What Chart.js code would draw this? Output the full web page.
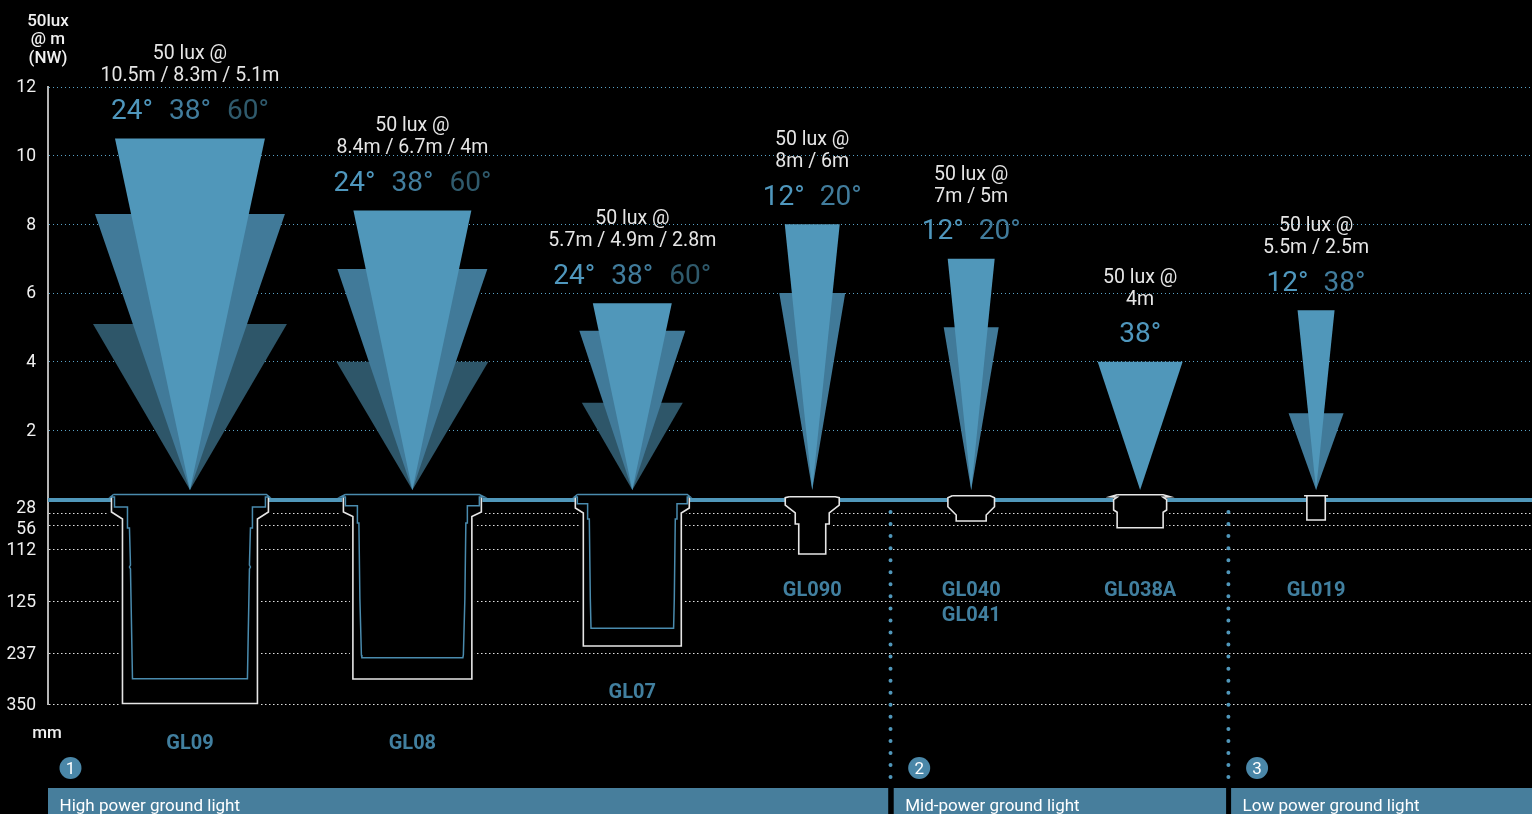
<!DOCTYPE html>
<html lang="en">
<head>
    <meta charset="UTF-8">
    <title>Ground light range</title>
    <script src="https://cdn.jsdelivr.net/npm/chart.js@4/dist/chart.umd.js"></script>
    <style>
        html, body { margin: 0; padding: 0; background: #000; overflow: hidden; }
        canvas { display: block; }
    </style>
</head>
<body>
<canvas id="lightChart" width="1532" height="814"></canvas>

<script>
    // Fixtures, left to right
    const fixtureNames = [['GL09'], ['GL08'], ['GL07'], ['GL090'], ['GL040', 'GL041'], ['GL038A'], ['GL019']];
    const fixtureCenters = [189.5, 412, 632, 812, 971, 1140, 1316];
    const nameDepths = [242, 242, 191, 89, 89, 89, 89];

    // Beams of each fixture, widest throw first
    const beamAngles = [[24, 38, 60], [24, 38, 60], [24, 38, 60], [12, 20], [12, 20], [38], [12, 38]];
    const beamRanges = [[10.5, 8.3, 5.1], [8.4, 6.7, 4], [5.7, 4.9, 2.8], [8, 6], [7, 5], [4], [5.5, 2.5]];
    const beamHalfWidths = [[75, 95, 97], [59, 75, 76], [39.5, 53, 50.5], [27.5, 33], [23.5, 27.5], [42.5], [18.5, 27.5]];
    const beamApex = 0.26;

    // Axes
    const meterTicks = [2, 4, 6, 8, 10, 12];
    const depthTicks = [14, 26, 50, 102, 154, 205];
    const depthLabels = ['28', '56', '112', '125', '237', '350'];
    const depthLabelSpots = [8, 29, 50, 102, 154, 205];

    // Fixture cross sections as [half width, depth]
    const housings = [
        [[78.5, -2], [78.5, 13], [67.5, 20], [67.5, 204.5]],
        [[69, -2], [69, 13], [59.5, 17.5], [59.5, 180]],
        [[57, -2], [57, 9], [49, 14], [49, 147]],
        [[23, -2.3], [27, -1.3], [27, 6], [17, 14], [17, 25], [13.5, 25], [13.5, 55]],
        [[19, -3.3], [23.3, -1.3], [23.3, 7.7], [15, 16], [15, 22]],
        [[23, -4.3], [30, -2.3], [23, -1.8], [26.5, 0.5], [26.5, 11], [23, 13.3], [23, 28.7]],
        [[12, -3.3], [9.2, -3.3], [9.2, 21]]
    ];
    const reflectors = [
        [[76.5, -4.5], [79.5, -2], [75.5, -2], [75.5, 8], [62.5, 8], [62.5, 29], [60.5, 29], [59.5, 66], [60.5, 68], [59.5, 70], [57.5, 179.7]],
        [[67, -4.5], [72, -2], [67, -2], [67, 6.7], [55, 6.7], [55, 24], [53.5, 24], [52.5, 100], [51, 156], [50.5, 158.7]],
        [[55, -4.5], [58, -2], [55, -2], [55, 4.7], [44.7, 4.7], [44.7, 20], [43, 20], [42, 100], [41.3, 129.3]],
        [], [], [], []
    ];
    // Half width where the ground line meets each fixture
    const groundStops = [79, 70, 57.5, 27, 23.3, 27, 9.2];

    // Bottom bands
    const bandNames = ['High power ground light', 'Mid-power ground light', 'Low power ground light'];
    const bandStarts = [47.5, 893.5, 1231];
    const bandEnds = [888, 1226, 1532];
    const bandDepth = 302;
    const badgeCenters = [70, 919, 1257];
    const badgeDepth = 269;
    const dividerCenters = [890.3, 1228.3];
    const dividerDepths = [13, 280];
    const groundDepth = 1;
    const groundEnds = [47.5, 1532];

    const beamColors = ['#5097ba', '#417a99', '#2e5669'];
    const angleColors = { 0: '#4f97bd', 1: '#417c9c', 2: '#2f5a6c' };
    const nameBlue = '#417f9f';
    const lineWhite = '#e6e6e6';

    function section(cx, profile) {
        const left = profile.map(p => ({ x: cx - p[0], y: p[1] }));
        const right = profile.map(p => ({ x: cx + p[0], y: p[1] })).reverse();
        return left.concat(right);
    }

    const datasets = [];

    function addLine(points, yAxisID, opts) {
        datasets.push(Object.assign({
            data: points, yAxisID, showLine: true, pointRadius: 0, tension: 0,
            borderWidth: 0, clip: false, fill: false
        }, opts));
    }

    // Beams and the black body of each fixture
    fixtureCenters.forEach((cx, f) => {
        beamRanges[f].map((r, i) => i).reverse().forEach(i => {
            const r = beamRanges[f][i];
            const hw = beamHalfWidths[f][i];
            addLine(
                [{ x: cx, y: beamApex }, { x: cx - hw, y: r }, { x: cx + hw, y: r }, { x: cx, y: beamApex }],
                'y', { backgroundColor: beamColors[i], fill: 'shape' }
            );
        });
        const body = section(cx, housings[f]);
        addLine(body.concat([body[0]]), 'depth', { backgroundColor: '#000', borderColor: '#000', borderWidth: 6, fill: 'shape' });
    });

    // Ground line runs between the fixtures
    fixtureCenters.concat([null]).forEach((cx, f) => {
        const from = f === 0 ? groundEnds[0] : fixtureCenters[f - 1] + groundStops[f - 1];
        const to = cx === null ? groundEnds[1] : cx - groundStops[f];
        addLine([{ x: from, y: groundDepth }, { x: to, y: groundDepth }], 'depth', { borderColor: '#5097ba', borderWidth: 4 });
    });

    // Outlines on top
    fixtureCenters.forEach((cx, f) => {
        const body = section(cx, housings[f]);
        const open = reflectors[f].length > 0;
        addLine(open ? body : body.concat([body[0]]), 'depth', { borderColor: lineWhite, borderWidth: 1.6 });
        if (open) {
            const inner = section(cx, reflectors[f]);
            addLine(inner.concat([inner[0]]), 'depth', { borderColor: '#4a8bae', borderWidth: 1.5 });
        }
    });

    dividerCenters.forEach(x => {
        addLine([{ x, y: dividerDepths[0] }, { x, y: dividerDepths[1] }], 'depth', {
            borderColor: '#5097ba', borderWidth: 4, borderCapStyle: 'round', borderDash: [0, 12.05]
        });
    });

    bandNames.forEach((name, i) => {
        addLine([{ x: bandStarts[i], y: bandDepth }, { x: bandEnds[i], y: bandDepth }], 'depth', {
            borderColor: '#477e9c', borderWidth: 26
        });
    });

    // Points outside the chart area are skipped by Chart.js, so badges are round-capped stubs
    badgeCenters.forEach(x => {
        addLine([{ x: x - 0.01, y: badgeDepth }, { x: x + 0.01, y: badgeDepth }], 'depth', {
            borderColor: '#4a87a8', borderWidth: 22, borderCapStyle: 'round'
        });
    });

    // Text that is not a tick label
    const textPlugin = {
        id: 'chartText',
        afterDatasetsDraw(chart) {
            const { ctx } = chart;
            const xs = chart.scales.x;
            const ys = chart.scales.y;
            const ds = chart.scales.depth;
            const put = (text, x, y, font, color, align) => {
                ctx.font = font;
                ctx.fillStyle = color;
                ctx.textAlign = align || 'center';
                ctx.textBaseline = 'middle';
                ctx.fillText(text, x, y);
            };

            ctx.save();
            const axisFont = '500 17px Roboto';
            ['50lux', '@ m', '(NW)'].forEach((t, i) => put(t, 48, 21.5 + i * 18.5, axisFont, '#f0f0f0'));
            depthLabels.forEach((t, i) => put(t, 36, ds.getPixelForValue(depthLabelSpots[i]) + 1.5, '400 17.5px Roboto', '#f0f0f0', 'right'));
            put('mm', 47, ds.getPixelForValue(233) + 2, axisFont, '#f0f0f0');

            fixtureCenters.forEach((cx, f) => {
                const x = xs.getPixelForValue(cx);
                const top = ys.getPixelForValue(beamRanges[f][0]);
                put('50 lux @', x, top - 84, '400 19.5px Roboto', lineWhite);
                put(beamRanges[f].map(r => r + 'm').join(' / '), x, top - 62, '400 19.5px Roboto', lineWhite);

                const angles = beamAngles[f];
                const step = angles.length === 3 ? 58 : 57;
                angles.forEach((a, i) => {
                    const off = (i - (angles.length - 1) / 2) * step;
                    put(a + '°', x + off, top - 26.5, '400 28px Roboto', angleColors[i]);
                });

                fixtureNames[f].forEach((n, i) => {
                    put(n, x, ds.getPixelForValue(nameDepths[f]) + 2.5 + i * 25, '700 20px Roboto', nameBlue);
                });
            });

            bandNames.forEach((name, i) => {
                put(name, xs.getPixelForValue(bandStarts[i]) + 11.5, ds.getPixelForValue(bandDepth) + 6, '400 17px Roboto', '#fff', 'left');
                put(String(i + 1), xs.getPixelForValue(badgeCenters[i]), ds.getPixelForValue(badgeDepth) + 1.5, '400 17px Roboto', '#fff');
            });
            ctx.restore();
        }
    };

    datasets.reverse(); // first dataset is painted last

    new Chart(document.getElementById('lightChart').getContext('2d'), {
        type: 'scatter',
        data: { datasets },
        plugins: [textPlugin],
        options: {
            responsive: false,
            animation: false,
            layout: { autoPadding: false, padding: { top: 87, bottom: 110 } },
            plugins: { legend: { display: false }, tooltip: { enabled: false } },
            events: [],
            scales: {
                x: { type: 'linear', min: 47.5, max: 1532, display: false },
                y: {
                    type: 'linear', position: 'left', stack: 'side', stackWeight: 412, weight: 1, min: 0, max: 12,
                    afterBuildTicks: s => { s.ticks = meterTicks.map(value => ({ value })); },
                    afterFit: s => { s.width = 48; },
                    grid: { color: '#5aa3c7', lineWidth: 1, drawTicks: false },
                    border: { color: '#b5b5b5', width: 2, dash: [1, 3] },
                    ticks: { color: '#f0f0f0', font: { family: 'Roboto', size: 17.5 }, padding: 12, labelOffset: 1 }
                },
                depth: {
                    type: 'linear', position: 'left', stack: 'side', stackWeight: 205, min: 0, max: 205, reverse: true,
                    afterBuildTicks: s => { s.ticks = depthTicks.map(value => ({ value })); },
                    afterFit: s => { s.width = 48; },
                    grid: { color: '#e0e0e0', lineWidth: 1, drawTicks: false },
                    border: { color: '#b5b5b5', width: 2, dash: [1.5, 2.5] },
                    ticks: { display: false }
                }
            }
        }
    });
</script>
</body>
</html>
